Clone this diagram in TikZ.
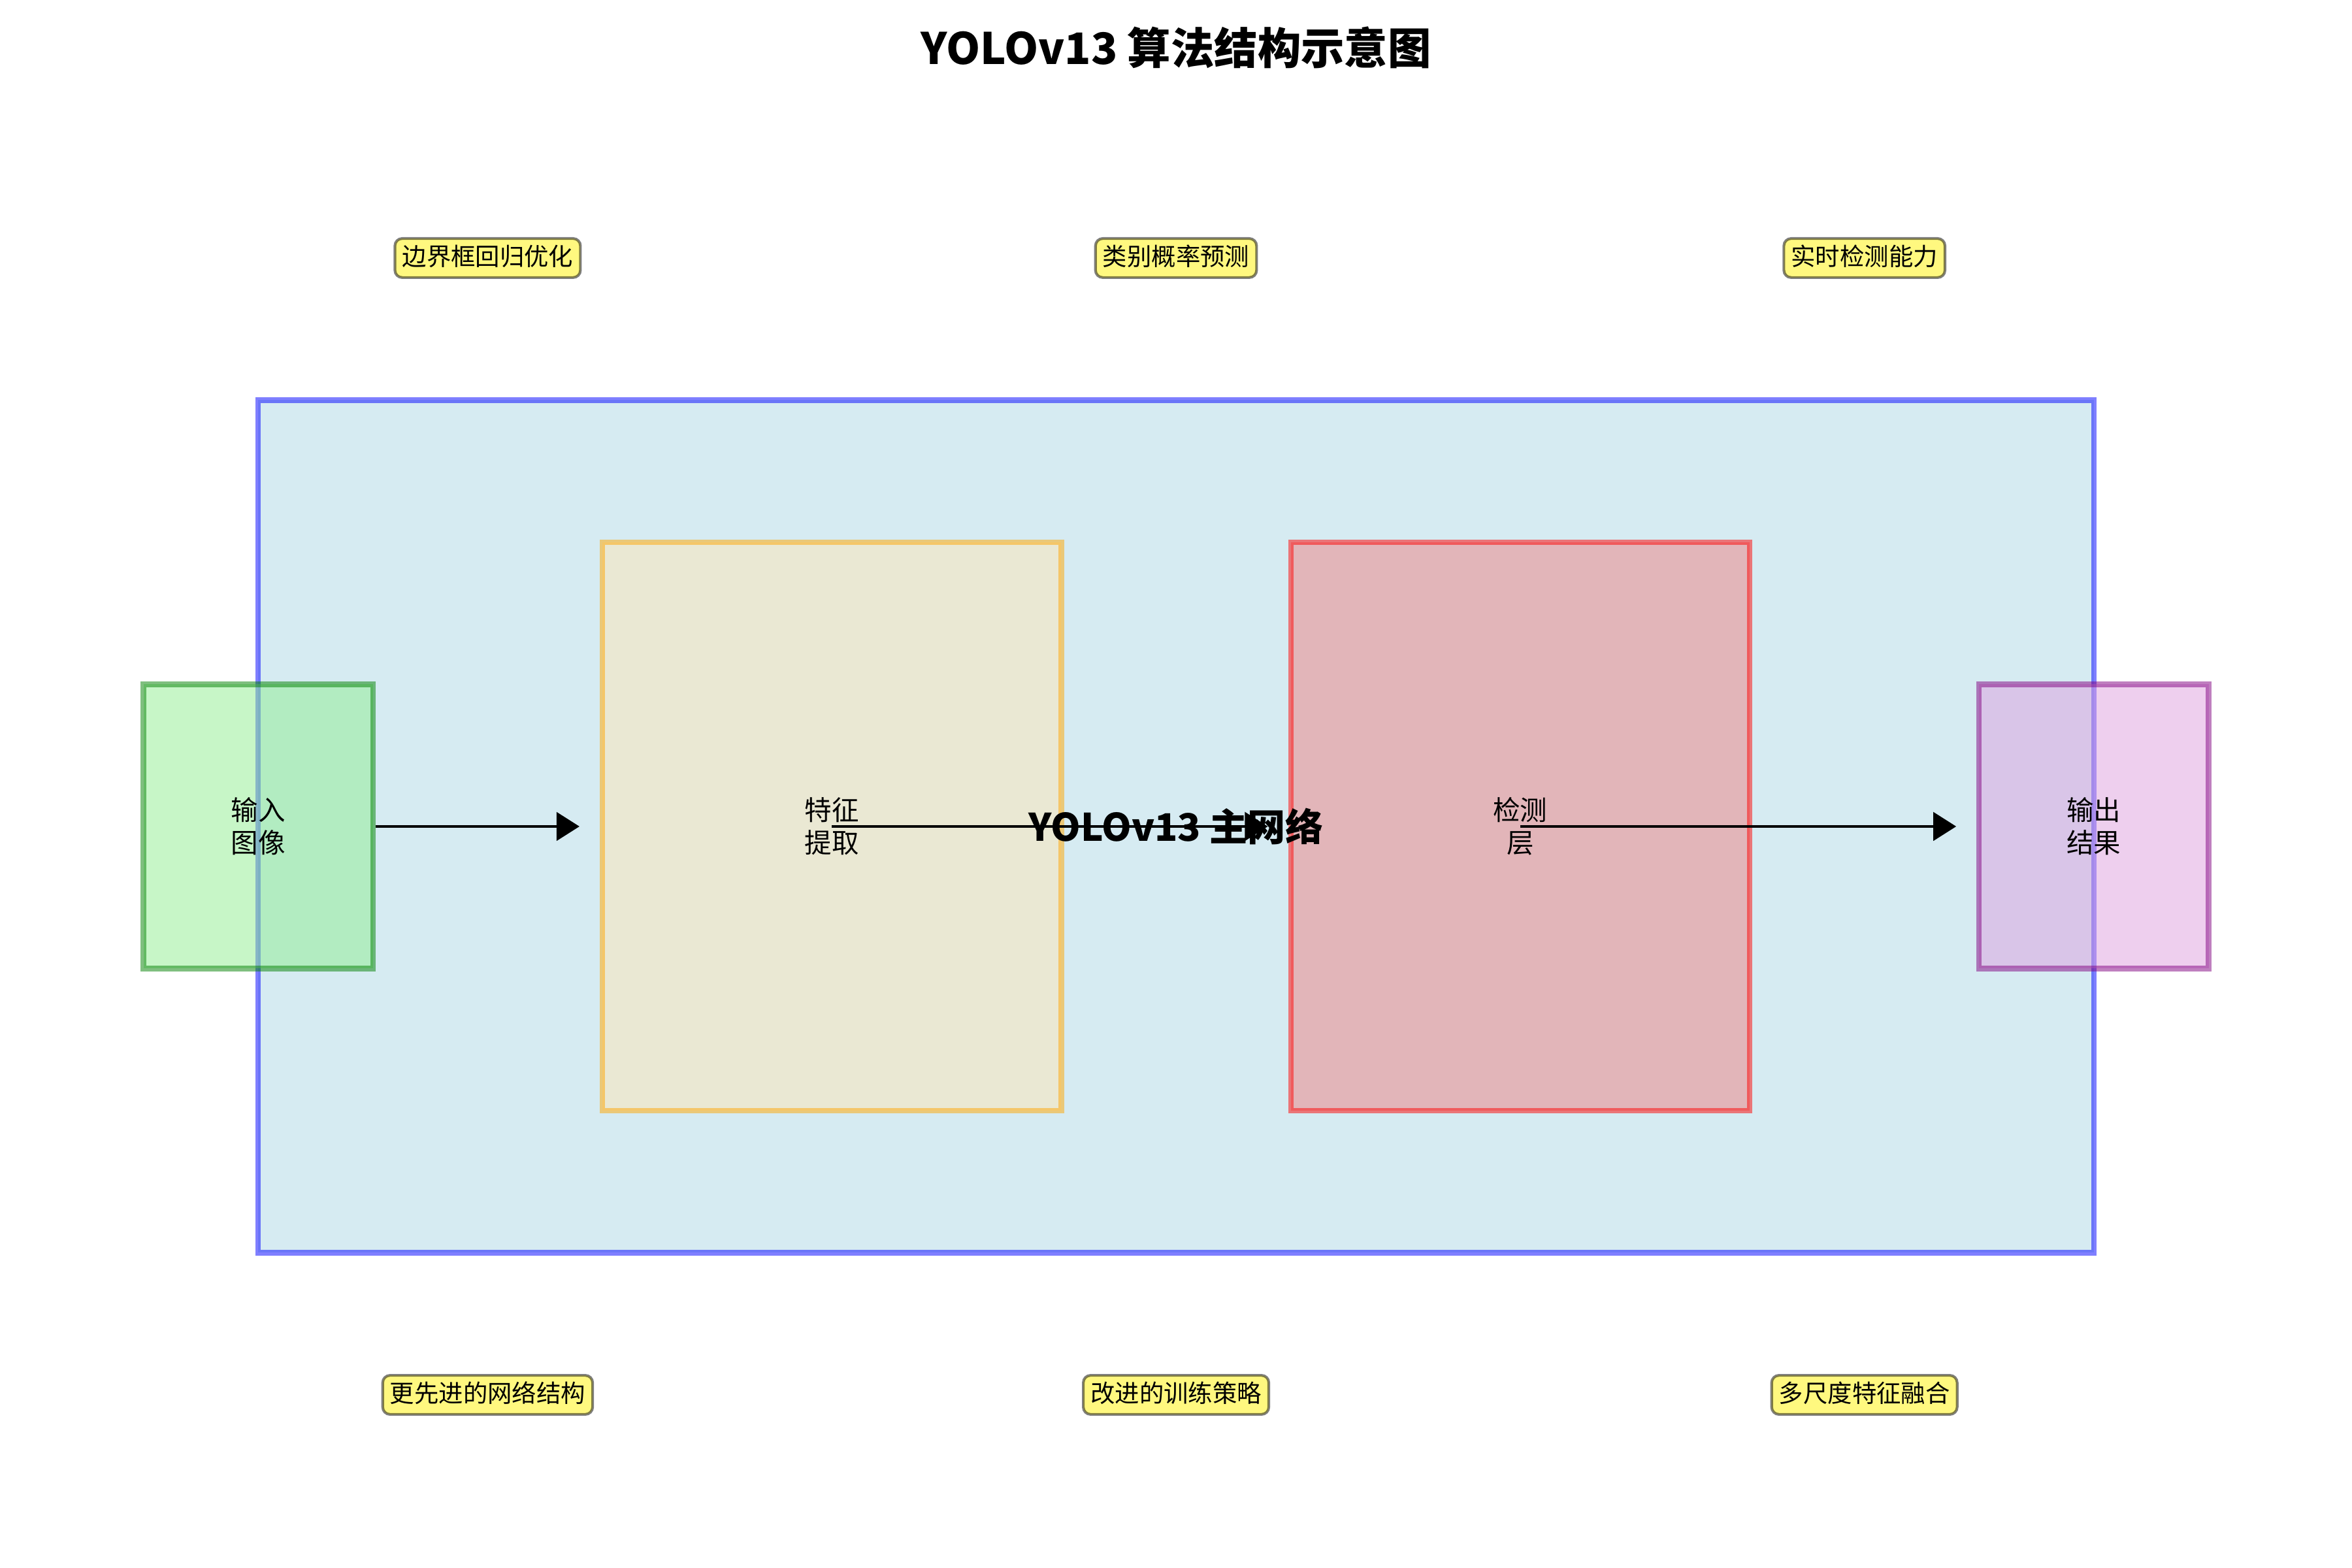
\documentclass[tikz,border=0pt]{standalone}
\usepackage{fontspec}
\setmainfont{Noto Sans CJK SC}
\usepackage{tikz}
\usetikzlibrary{arrows.meta,positioning}

\definecolor{inpfill}{HTML}{90EE90}
\definecolor{inpline}{HTML}{008000}
\definecolor{featfill}{HTML}{FFE4B5}
\definecolor{featline}{HTML}{FFA500}
\definecolor{detfill}{HTML}{F08080}
\definecolor{detline}{HTML}{FF0000}
\definecolor{outfill}{HTML}{DDA0DD}
\definecolor{outline}{HTML}{800080}
\definecolor{bbfill}{HTML}{ADD8E6}
\definecolor{bbline}{HTML}{0000FF}

\begin{document}
\begin{tikzpicture}[
  x=2.9735cm, y=3.683cm,
  block/.style={rectangle, draw, line width=2pt, inner sep=0pt, fill opacity=0.5, draw opacity=0.5, text opacity=1, align=center, font=\fontsize{10}{12}\selectfont},
  arrow/.style={-{Triangle[length=2.97mm, width=3.68mm]}, line width=1pt},
  tag/.style={rectangle, rounded corners=2.7pt, draw=black, fill=yellow, line width=1pt, fill opacity=0.5, draw opacity=0.5, text opacity=1, inner xsep=2.7pt, inner ysep=2.7pt, text height=7.2pt, text depth=1.8pt, font=\fontsize{9}{11}\selectfont}
]
  \useasboundingbox (-0.1253,0.391) rectangle (10.125,5.908);

  % backbone frame
  \node[block, fill=bbfill, draw=bbline, minimum width=23.788cm, minimum height=11.049cm] (backbone) at (5,3) {};

  % stages
  \node[block, fill=inpfill, draw=inpline, minimum width=2.9735cm, minimum height=3.683cm] (inp) at (1,3) {输入\\图像};
  \node[block, fill=featfill, draw=featline, minimum width=5.947cm, minimum height=7.366cm] (feat) at (3.5,3) {特征\\提取};
  \node[block, fill=detfill, draw=detline, minimum width=5.947cm, minimum height=7.366cm] (det) at (6.5,3) {检测\\层};
  \node[block, fill=outfill, draw=outline, minimum width=2.9735cm, minimum height=3.683cm] (out) at (9,3) {输出\\结果};

  \coordinate (tip1) at (2.4,3);
  \coordinate (tip2) at (5.4,3);
  \coordinate (tip3) at (8.4,3);
  \draw[arrow] (inp.east) -- (tip1);
  \draw[arrow] (feat.center) -- (tip2);
  \draw[arrow] (det.center) -- (tip3);

  \node[font=\fontsize{14}{17}\selectfont\bfseries] (bbname) at (backbone.center) {YOLOv13 主网络};

  % features
  \node[tag] (t1) at (2,5) {边界框回归优化};
  \node[tag] (t2) at (5,5) {类别概率预测};
  \node[tag] (t3) at (8,5) {实时检测能力};
  \node[tag] (b1) at (2,1) {更先进的网络结构};
  \node[tag] (b2) at (5,1) {改进的训练策略};
  \node[tag] (b3) at (8,1) {多尺度特征融合};

  \node[font=\fontsize{16}{19}\selectfont\bfseries] (title) at (5,5.74) {YOLOv13 算法结构示意图};
\end{tikzpicture}
\end{document}
